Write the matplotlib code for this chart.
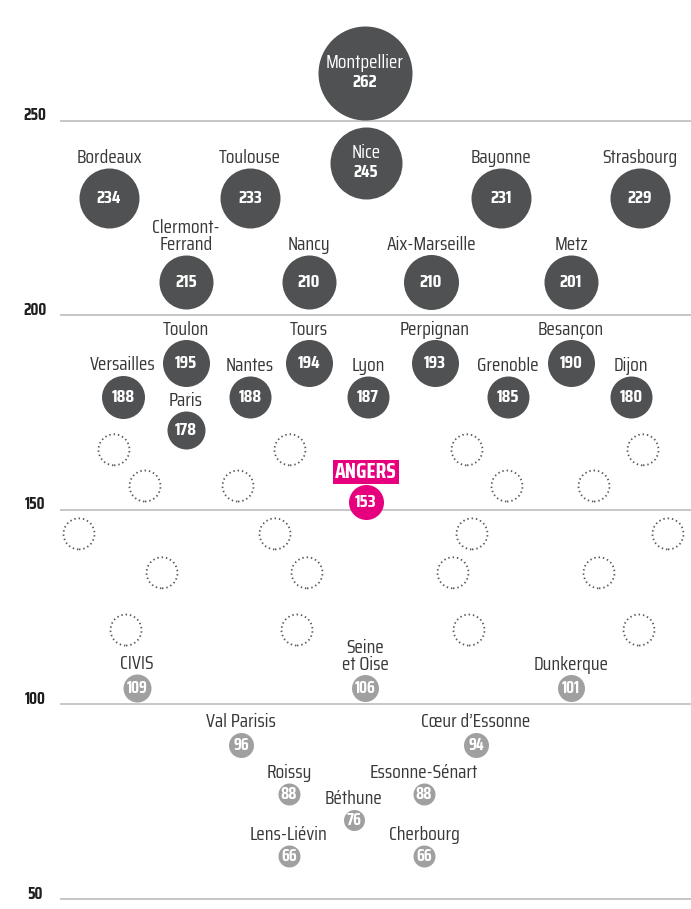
import matplotlib
matplotlib.use("Agg")
import matplotlib.pyplot as plt
from matplotlib import font_manager
import numpy as np

# ---- data ----
names = ["Montpellier", "Nice", "Bordeaux", "Toulouse", "Bayonne", "Strasbourg",
         "Clermont-\nFerrand", "Nancy", "Aix-Marseille", "Metz",
         "Toulon", "Tours", "Perpignan", "Besançon",
         "Versailles", "Nantes", "Lyon", "Grenoble", "Dijon", "Paris",
         "ANGERS",
         "CIVIS", "Seine\net Oise", "Dunkerque", "Val Parisis", "Cœur d’Essonne",
         "Roissy", "Essonne-Sénart", "Béthune", "Lens-Liévin", "Cherbourg"]
values = [262, 245, 234, 233, 231, 229,
          215, 210, 210, 201,
          195, 194, 193, 190,
          188, 188, 187, 185, 180, 178,
          153,
          109, 106, 101, 96, 94,
          88, 88, 76, 66, 66]
groups = ["top"] * 20 + ["angers"] + ["low"] * 10
y_ticks = [50, 100, 150, 200, 250]

# ---- layout (x in pixels, y in axis units, diameter in pixels) ----
pos_x = [365, 366, 109, 250, 501, 640,
         186, 309, 431, 571,
         186, 309, 435, 571,
         123, 250, 368, 508, 631, 186,
         366,
         137, 365, 571, 241, 476,
         289, 424, 354, 289, 424]
pos_y = [262.2, 239.1, 230.1, 230.1, 230.1, 230.1,
         208.5, 208.5, 208.5, 208.5,
         187.7, 187.7, 187.7, 187.7,
         179.0, 179.0, 179.0, 179.0, 179.0, 170.5,
         152.0,
         104.2, 104.2, 104.2, 89.6, 89.6,
         77.0, 77.0, 70.3, 61.0, 61.0]
diam = [94, 72, 60, 60, 60, 60,
        54, 54, 55, 54,
        47, 47, 47, 47,
        43, 42, 42, 42, 42, 38,
        35,
        28, 27, 27, 25, 25,
        22, 22, 21, 22, 22]
# empty dotted placeholders
dot_x = [114, 290, 467, 643, 145, 238, 507, 594, 79, 275, 472, 668,
         162, 307, 453, 599, 126, 297, 469, 639]
dot_y = [165.4, 165.4, 165.4, 165.4, 156.1, 156.1, 156.1, 156.1,
         143.8, 143.8, 143.8, 143.8, 133.8, 133.8, 133.8, 133.8,
         119.1, 119.1, 119.1, 119.1]

colors = {"top": "#4f5152", "angers": "#e6007e", "low": "#a0a0a0"}
TXT = "#383838"

installed = {f.name for f in font_manager.fontManager.ttflist}
FONT = "Saira Condensed" if "Saira Condensed" in installed else "DejaVu Sans"
plt.rcParams["font.family"] = [FONT, "DejaVu Sans"]

PX = 72 / 100  # points per pixel

fig = plt.figure(figsize=(6.91, 9.09), dpi=100)
ax = fig.add_axes([0, 0, 1, 1])
ax.set_xlim(0, 691)
ax.set_ylim(250 - (909 - 120.5) / 3.8925, 250 + 120.5 / 3.8925)
ax.axis("off")

# grid lines + tick labels
for t in y_ticks:
    ax.plot([60, 691], [t, t], color="#c8c8c8", lw=2.0 * PX, zorder=0,
            solid_capstyle="butt")
    ax.text(35, t + 1.4, str(t), ha="center", va="center", fontsize=12,
            fontweight="bold", color="#1e1e1e")

# dotted placeholders
ax.scatter(dot_x, dot_y, s=(31 * PX) ** 2, facecolors="none",
           edgecolors="#5a5a5a", linewidths=1.3, linestyles=(0, (0.8, 1.6)),
           zorder=1)

for n, v, g, x, y, d in zip(names, values, groups, pos_x, pos_y, diam):
    ax.scatter([x], [y], s=(d * PX) ** 2, color=colors[g], linewidths=0,
               zorder=2)
    if d >= 70:
        # name written inside the big circles
        ax.annotate(n, (x, y), xytext=(0, 1), textcoords="offset points",
                    ha="center", va="bottom", color="white", fontsize=14,
                    zorder=3)
        ax.annotate(str(v), (x, y), xytext=(0, -1), textcoords="offset points",
                    ha="center", va="top", color="white", fontsize=13,
                    fontweight="bold", zorder=3)
        continue
    small = g == "low"
    ax.text(x, y, str(v), ha="center", va="center", color="white",
            fontsize=12 if small else 13, fontweight="bold", zorder=3)
    off = (d / 2 + 1) * PX
    if g == "angers":
        ax.annotate(n, (x, y), xytext=(0, off + 1), textcoords="offset points",
                    ha="center", va="bottom", color="white", fontsize=15.5,
                    fontweight="bold",
                    bbox=dict(boxstyle="square,pad=0.1", fc=colors[g], ec="none"))
    else:
        ax.annotate(n, (x, y), xytext=(0, off), textcoords="offset points",
                    ha="center", va="bottom", color=TXT, fontsize=14,
                    linespacing=0.9)

fig.savefig("out.png", dpi=100, facecolor="white")
